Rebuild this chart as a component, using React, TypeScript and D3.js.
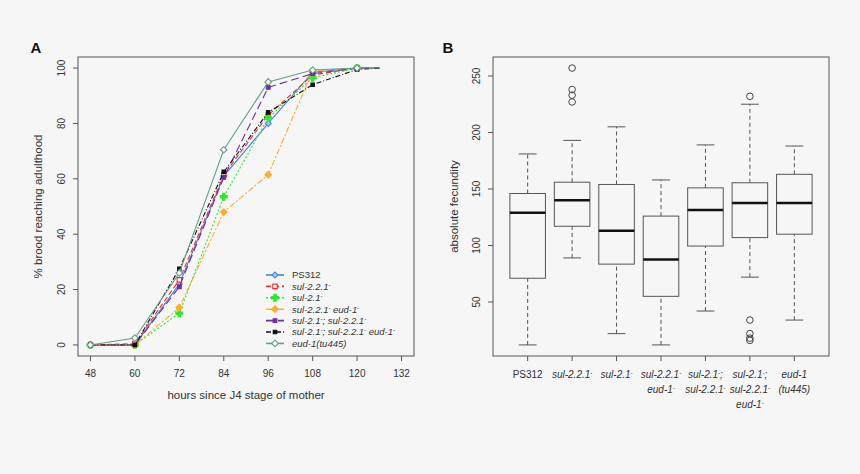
import { useEffect, useRef } from 'react'
import * as d3 from 'd3'

// Panel A: brood reaching adulthood over time
const hours = [48, 60, 72, 84, 96, 108, 120, 126]
const strainNames = [
  'PS312',
  'sul-2.2.1*',
  'sul-2.1*',
  'sul-2.2.1* eud-1*',
  'sul-2.1*; sul-2.2.1*',
  'sul-2.1*; sul-2.2.1* eud-1*',
  'eud-1(tu445)'
]
const ps312 = [0, 0, 22, 61, 80, 98.5, 100, 100]
const sul221 = [0, 0.5, 23.5, 61.5, 83, 97.5, 100, 100]
const sul21 = [0, 0, 11.5, 53.5, 82, 96.5, 100, 100]
const sul221Eud1 = [0, 0, 13.5, 48, 61.5, 99, 100, 100]
const sul21Sul221 = [0, 0, 21, 60.5, 93, 98, 100, 100]
const sul21Sul221Eud1 = [0, 0, 27.5, 62.5, 84, 94, 99.5, 100]
const eud1 = [0, 2.5, 26, 70.5, 95, 99.3, 100, 100]
const seriesValues = [ps312, sul221, sul21, sul221Eud1, sul21Sul221, sul21Sul221Eud1, eud1]
const xTicksA = [48, 60, 72, 84, 96, 108, 120, 132]
const yTicksA = [0, 20, 40, 60, 80, 100]

// Panel B: absolute fecundity boxplots
const boxLabels = [
  ['PS312'],
  ['sul-2.2.1*'],
  ['sul-2.1*'],
  ['sul-2.2.1*', 'eud-1*'],
  ['sul-2.1*;', 'sul-2.2.1*'],
  ['sul-2.1*;', 'sul-2.2.1*', 'eud-1*'],
  ['eud-1', '(tu445)']
]
const whiskerLow = [12, 89, 22, 12, 42, 72, 34]
const quartile1 = [71, 117, 83.5, 55, 99.5, 107, 110]
const medians = [129, 140, 113, 87.5, 131.5, 137.5, 137.5]
const quartile3 = [146, 156, 154, 126, 151, 155.5, 163]
const whiskerHigh = [181, 193, 205, 158, 189, 225, 188]
const outliers = [[], [257, 238, 233, 227], [], [], [], [232, 34, 22, 18, 16], []]
const yTicksB = [50, 100, 150, 200, 250]

const BG = '#f6f6f6'
const INK = '#333'
const FONT = '"Liberation Sans", Arial, sans-serif'

const styles = [
  { color: '#3f86d8', dash: null, shape: 'diamond', fill: '#a9c9ef', size: 18 },
  { color: '#ff2a2a', dash: '5,3', shape: 'square', fill: '#fff', size: 20 },
  { color: '#2ee82e', dash: '2,2', shape: 'cross', fill: '#2ee82e', size: 26 },
  { color: '#ffab2e', dash: '6,2,2,2', shape: 'diamond', fill: '#ffab2e', size: 22 },
  { color: '#6f2f9f', dash: '8,4', shape: 'square', fill: '#6f2f9f', size: 14 },
  { color: '#111', dash: '5,2,1,2', shape: 'square', fill: '#111', size: 12 },
  { color: '#649f8a', dash: null, shape: 'diamond', fill: BG, size: 22 }
]

// diamonds are squares turned by 45 degrees, as in R's pch 23
function marker(shape: string, size: number) {
  const type = shape === 'cross' ? d3.symbolCross : d3.symbolSquare
  return d3.symbol().type(type).size(size)() || ''
}
function markerTransform(shape: string, px: number, py: number) {
  return `translate(${px}, ${py})` + (shape === 'diamond' ? ' rotate(45)' : '')
}

// '*' marks a superscript minus
function richText(sel: d3.Selection<SVGTextElement, unknown, null, undefined>, str: string, size: number) {
  const parts = str.split('*')
  parts.forEach((p, i) => {
    if (p) sel.append('tspan').text(p)
    if (i < parts.length - 1) {
      sel.append('tspan').attr('font-size', size * 0.6).attr('baseline-shift', 'super').text('-')
    }
  })
}

export default function App() {
  const svgRef = useRef<SVGSVGElement>(null)

  useEffect(() => {
    if (!svgRef.current) return
    const svg = d3.select(svgRef.current)
    svg.selectAll('*').remove()
    svg.append('rect').attr('width', 860).attr('height', 474).attr('fill', BG)

    // ---------- Panel A ----------
    const A = { l: 78, r: 414, t: 57, b: 356 }
    const x = d3.scaleLinear().domain([44.64, 135.36]).range([A.l, A.r])
    const y = d3.scaleLinear().domain([-4, 104]).range([A.b, A.t])
    const gA = svg.append('g').attr('font-family', FONT).attr('fill', INK)

    gA.append('text').attr('x', 36).attr('y', 53).attr('text-anchor', 'middle')
      .attr('font-size', 15).attr('font-weight', 'bold').attr('fill', '#111').text('A')

    gA.append('rect').attr('x', A.l).attr('y', A.t).attr('width', A.r - A.l).attr('height', A.b - A.t)
      .attr('fill', 'none').attr('stroke', '#555')

    xTicksA.forEach(t => {
      gA.append('line').attr('x1', x(t)).attr('x2', x(t)).attr('y1', A.b).attr('y2', A.b + 5).attr('stroke', '#555')
      gA.append('text').attr('x', x(t)).attr('y', 377).attr('text-anchor', 'middle').attr('font-size', 10).text(t)
    })
    yTicksA.forEach(t => {
      gA.append('line').attr('x1', A.l - 5).attr('x2', A.l).attr('y1', y(t)).attr('y2', y(t)).attr('stroke', '#555')
      gA.append('text').attr('transform', `translate(65, ${y(t)}) rotate(-90)`)
        .attr('text-anchor', 'middle').attr('font-size', 10).text(t)
    })
    gA.append('text').attr('x', (A.l + A.r) / 2).attr('y', 399).attr('text-anchor', 'middle')
      .attr('font-size', 11.5).text('hours since J4 stage of mother')
    gA.append('text').attr('transform', `translate(42, ${(A.t + A.b) / 2}) rotate(-90)`)
      .attr('text-anchor', 'middle').attr('font-size', 11.5).text('% brood reaching adulthood')

    const line = d3.line<number>().x((_, i) => x(hours[i])).y(d => y(d))
    seriesValues.forEach((vals, s) => {
      const st = styles[s]
      gA.append('path').attr('d', line(vals) || '').attr('fill', 'none')
        .attr('stroke', st.color).attr('stroke-width', 1.1)
        .attr('stroke-dasharray', st.dash)
      vals.slice(0, 7).forEach((v, i) => {
        gA.append('path').attr('d', marker(st.shape, st.size))
          .attr('transform', markerTransform(st.shape, x(hours[i]), y(v)))
          .attr('fill', st.fill).attr('stroke', st.color).attr('stroke-width', 1.1)
      })
    })

    // legend
    const leg = gA.append('g')
    strainNames.forEach((name, i) => {
      const st = styles[i]
      const ly = 275 + i * 11.4
      leg.append('line').attr('x1', 266).attr('x2', 284).attr('y1', ly).attr('y2', ly)
        .attr('stroke', st.color).attr('stroke-width', 1.6).attr('stroke-dasharray', st.dash)
      leg.append('path').attr('d', marker(st.shape, st.size))
        .attr('transform', markerTransform(st.shape, 275, ly))
        .attr('fill', st.fill).attr('stroke', st.color).attr('stroke-width', 1.1)
      const t = leg.append('text').attr('x', 292).attr('y', ly + 3.3).attr('font-size', 9.5)
        .attr('font-style', i === 0 ? 'normal' : 'italic')
      richText(t, name, 9.5)
    })

    // ---------- Panel B ----------
    const B = { l: 493, r: 829, t: 57, b: 356 }
    const xb = d3.scaleLinear().domain([0.22, 7.78]).range([B.l, B.r])
    const yb = d3.scaleLinear().domain([2.2, 266.8]).range([B.b, B.t])
    const gB = svg.append('g').attr('font-family', FONT).attr('fill', INK)
    const unit = xb(1) - xb(0)
    const boxW = unit * 0.8

    gB.append('text').attr('x', 448).attr('y', 53).attr('text-anchor', 'middle')
      .attr('font-size', 15).attr('font-weight', 'bold').attr('fill', '#111').text('B')

    gB.append('rect').attr('x', B.l).attr('y', B.t).attr('width', B.r - B.l).attr('height', B.b - B.t)
      .attr('fill', 'none').attr('stroke', '#555')

    yTicksB.forEach(t => {
      gB.append('line').attr('x1', B.l - 5).attr('x2', B.l).attr('y1', yb(t)).attr('y2', yb(t)).attr('stroke', '#555')
      gB.append('text').attr('transform', `translate(480, ${yb(t)}) rotate(-90)`)
        .attr('text-anchor', 'middle').attr('font-size', 10).text(t)
    })
    gB.append('text').attr('transform', `translate(458, ${(B.t + B.b) / 2}) rotate(-90)`)
      .attr('text-anchor', 'middle').attr('font-size', 11.5).text('absolute fecundity')

    boxLabels.forEach((lines, i) => {
      const cx = xb(i + 1)
      gB.append('line').attr('x1', cx).attr('x2', cx).attr('y1', B.b).attr('y2', B.b + 5).attr('stroke', '#555')
      lines.forEach((ln, j) => {
        const t = gB.append('text').attr('x', cx).attr('y', 378 + j * 15).attr('text-anchor', 'middle')
          .attr('font-size', 10).attr('font-style', i === 0 ? 'normal' : 'italic')
        richText(t, ln, 10)
      })

      const stroke = '#555'
      // whiskers
      ;[[whiskerLow[i], quartile1[i]], [quartile3[i], whiskerHigh[i]]].forEach(([a, b]) => {
        gB.append('line').attr('x1', cx).attr('x2', cx).attr('y1', yb(a)).attr('y2', yb(b))
          .attr('stroke', stroke).attr('stroke-dasharray', '4,3')
      })
      ;[whiskerLow[i], whiskerHigh[i]].forEach(v => {
        gB.append('line').attr('x1', cx - boxW / 4).attr('x2', cx + boxW / 4).attr('y1', yb(v)).attr('y2', yb(v))
          .attr('stroke', stroke)
      })
      gB.append('rect').attr('x', cx - boxW / 2).attr('width', boxW)
        .attr('y', yb(quartile3[i])).attr('height', yb(quartile1[i]) - yb(quartile3[i]))
        .attr('fill', 'none').attr('stroke', stroke)
      gB.append('line').attr('x1', cx - boxW / 2).attr('x2', cx + boxW / 2)
        .attr('y1', yb(medians[i])).attr('y2', yb(medians[i])).attr('stroke', '#111').attr('stroke-width', 2.5)
      outliers[i].forEach(v => {
        gB.append('circle').attr('cx', cx).attr('cy', yb(v)).attr('r', 3.3)
          .attr('fill', 'none').attr('stroke', '#444')
      })
    })
  }, [])

  return (
    <svg ref={svgRef} width={860} height={474}
      style={{ position: 'absolute', left: 0, top: 0, display: 'block' }} />
  )
}
